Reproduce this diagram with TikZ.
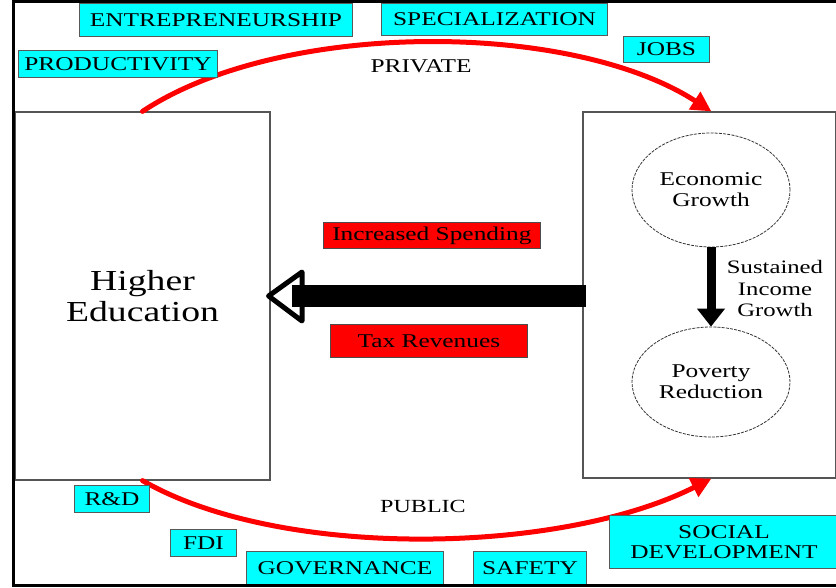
\documentclass[tikz,border=0pt]{standalone}
\usepackage{fontspec}
\setmainfont{Liberation Serif}[FakeStretch=1.3]
\usetikzlibrary{arrows.meta,shapes.geometric,calc}
\definecolor{cy}{HTML}{00FFFF}
\definecolor{frameg}{HTML}{555555}
\begin{document}
\begin{tikzpicture}[x=1pt,y=-1pt,
  tag/.style={draw=black!65, line width=1pt, fill=cy, inner sep=0pt, anchor=north west,
    font=\fontsize{19.5}{20.5}\selectfont, align=center},
  redtag/.style={draw=black!70, line width=0.8pt, fill=red, inner sep=0pt, anchor=north west,
    font=\fontsize{19.5}{20.5}\selectfont},
  bigbox/.style={draw=frameg, line width=1.2pt, inner sep=0pt, rectangle},
  oval/.style={ellipse, draw=black!80, line width=0.8pt, dash pattern=on 3pt off 1.2pt,
    inner sep=0pt, align=center, font=\fontsize{19.5}{21}\selectfont},
  flow/.style={red, line width=5pt, line cap=round, -{Triangle[length=20pt,width=20pt]}},
  lbl/.style={font=\fontsize{19.5}{21}\selectfont, align=center, inner sep=0pt}
]
\useasboundingbox (0,0) rectangle (836,588);

% main boxes
\node[bigbox, minimum width=255pt, minimum height=368pt, align=center,
  font=\fontsize{29}{31}\selectfont] (he) at (142.5,296) {Higher\\Education};
\node[bigbox, minimum width=253pt, minimum height=366pt] (rb) at (709.5,295) {};

% ellipses
\node[oval, minimum width=158pt, minimum height=114pt] (eg) at (711,190) {Economic\\Growth};
\node[oval, minimum width=158pt, minimum height=110pt] (pr) at (711,382) {Poverty\\Reduction};
\draw[line width=9pt, -{Triangle[length=18pt,width=27pt]}] (eg.south) -- (pr.north);
\node[lbl, font=\fontsize{19}{21.5}\selectfont] (sig) at (775,289) {Sustained\\Income\\Growth};

% big left arrow
\coordinate (tip) at ($(he.east)+(-2,0)$);
\coordinate (hb1) at (302,272);
\coordinate (hb2) at (302,321);
\fill[white] (hb1) -- (tip) -- (hb2) -- cycle;
\fill[black] (292,285) rectangle (586,307);
\draw[line width=5pt, line join=round] (hb1) -- (tip) -- (hb2) -- cycle;

% red tags
\node[redtag, minimum width=217pt, minimum height=26pt] (inc) at (323,222) {Increased Spending};
\node[redtag, minimum width=197pt, minimum height=33pt] (tax) at (330,324) {Tax Revenues};

% flows
\draw[flow] (he.north) .. controls (280,20) and (570,20) .. ($(rb.north west)+(129,0)$);
\draw[flow] (he.south) .. controls (280,560) and (560,555) .. ($(rb.south west)+(129,0)$);
\node[lbl] (priv) at (421,66) {PRIVATE};
\node[lbl, font=\fontsize{18.5}{20}\selectfont] (pub) at (423,506) {PUBLIC};

% cyan tags
\node[tag, minimum width=273pt, minimum height=33pt] (ent) at (79,3) {ENTREPRENEURSHIP};
\node[tag, minimum width=226pt, minimum height=32pt] (spec) at (381,3) {SPECIALIZATION};
\node[tag, minimum width=199pt, minimum height=27pt] (prod) at (18,50) {PRODUCTIVITY};
\node[tag, minimum width=86pt, minimum height=26pt] (jobs) at (623,36) {JOBS};
\node[tag, minimum width=75pt, minimum height=27pt] (rd) at (74,485) {R\&D};
\node[tag, minimum width=66pt, minimum height=27pt] (fdi) at (170,529) {FDI};
\node[tag, minimum width=197pt, minimum height=34pt] (gov) at (246,551) {GOVERNANCE};
\node[tag, minimum width=113pt, minimum height=34pt] (saf) at (473,551) {SAFETY};
\node[tag, minimum width=229pt, minimum height=53pt] (soc) at (609,515) {SOCIAL\\DEVELOPMENT};

% outer frame
\draw[line width=3pt] (836,2) -- (13,2) -- (13,585) -- (836,585);
\end{tikzpicture}
\end{document}
